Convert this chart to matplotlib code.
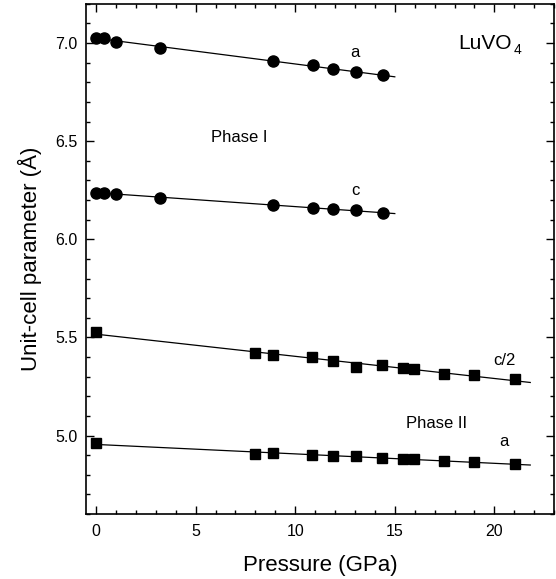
import numpy as np
import matplotlib
matplotlib.use("Agg")
import matplotlib.pyplot as plt
from matplotlib.ticker import MultipleLocator

plt.rcParams['font.family'] = ['Liberation Sans', 'DejaVu Sans']

# Phase I (zircon), circles
p1 = [0.0, 0.4, 1.0, 3.2, 8.9, 10.9, 11.9, 13.05, 14.4]
a1 = [7.027, 7.027, 7.007, 6.976, 6.908, 6.886, 6.866, 6.854, 6.837]
c1 = [6.238, 6.236, 6.231, 6.213, 6.175, 6.158, 6.153, 6.149, 6.134]

# Phase II (scheelite), squares
p2 = [0.0, 7.98, 8.88, 10.86, 11.9, 13.05, 14.37, 15.4, 15.96, 17.49, 18.98, 21.05]
c2_half = [5.527, 5.420, 5.410, 5.399, 5.381, 5.350, 5.360, 5.343, 5.338, 5.315, 5.308, 5.286]
a2 = [4.96, 4.908, 4.913, 4.902, 4.894, 4.893, 4.884, 4.878, 4.879, 4.872, 4.864, 4.856]

fig = plt.figure(figsize=(5.56, 5.79), dpi=100)
ax = fig.add_axes([0.1547, 0.1123, 0.842, 0.881])

def fit_line(x, y, x_end):
    k, b = np.polyfit(x, y, 1)
    xs = np.array([0.0, x_end])
    ax.plot(xs, k * xs + b, color='black', lw=0.9, zorder=1)

for y in (a1, c1):
    fit_line(p1, y, 15.0)
    ax.plot(p1, y, 'o', color='black', ms=8, zorder=2)

for y in (c2_half, a2):
    fit_line(p2, y, 21.8)
    ax.plot(p2, y, 's', color='black', ms=7, zorder=2)

ax.text(13.0, 6.95, 'a', fontsize=12, ha='center', va='center')
ax.text(13.0, 6.25, 'c', fontsize=12, ha='center', va='center')
ax.text(7.2, 6.52, 'Phase I', fontsize=12, ha='center', va='center')
ax.text(20.85, 7.0, 'LuVO', fontsize=15, ha='right', va='center')
ax.text(20.95, 6.965, '4', fontsize=10, ha='left', va='center')
ax.text(20.5, 5.38, 'c/2', fontsize=12, ha='center', va='center')
ax.text(17.1, 5.06, 'Phase II', fontsize=12, ha='center', va='center')
ax.text(20.5, 4.97, 'a', fontsize=12, ha='center', va='center')

ax.set_xlim(-0.5, 23)
ax.set_ylim(4.6, 7.2)
ax.xaxis.set_major_locator(MultipleLocator(5))
ax.xaxis.set_minor_locator(MultipleLocator(1))
ax.yaxis.set_major_locator(MultipleLocator(0.5))
ax.yaxis.set_minor_locator(MultipleLocator(0.1))
ax.yaxis.set_major_formatter(matplotlib.ticker.FormatStrFormatter('%.1f'))
ax.tick_params(which='both', direction='in', top=True, right=True, labelsize=11.5, width=1.0)
ax.tick_params(which='major', length=6)
ax.tick_params(which='minor', length=3)
ax.tick_params(axis='x', pad=7)
ax.tick_params(axis='y', pad=6)
for s in ax.spines.values():
    s.set_linewidth(1.2)

ax.set_xlabel('Pressure (GPa)', fontsize=16, labelpad=12)
ax.set_ylabel('Unit-cell parameter (Å)', fontsize=16, labelpad=10)

fig.savefig('out.png', dpi=100)
